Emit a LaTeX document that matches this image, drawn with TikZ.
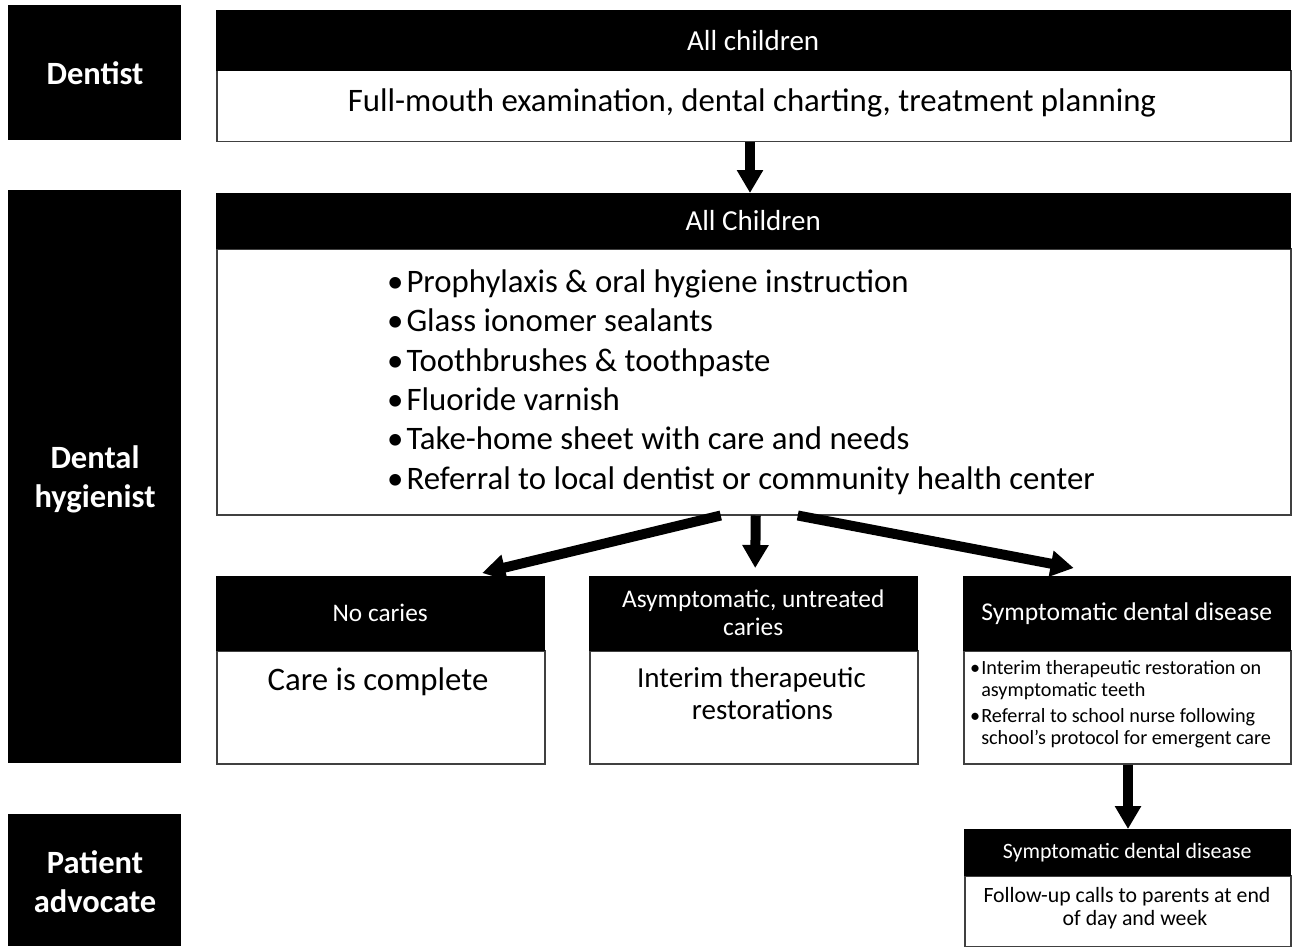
\documentclass[tikz,border=0pt]{standalone}
\usepackage{fontspec}
\setmainfont{Carlito}
\usetikzlibrary{arrows.meta}
\begin{document}
\begin{tikzpicture}[x=1pt,y=-1pt,
  lblbox/.style={fill=black,anchor=north west,inner sep=0pt},
  lbltxt/.style={text=white,inner sep=0pt,align=center,font=\fontsize{32.5}{39}\selectfont\bfseries},
  hdr/.style={fill=black,draw=black,text=white,anchor=north west,inner sep=0pt,align=center},
  body/.style={fill=white,draw=black!75,line width=1.5pt,anchor=north west,inner sep=0pt},
  txt/.style={inner sep=0pt,align=center,text=black},
  arr/.style={line width=10pt,draw=black,-{Triangle[width=25pt,length=23pt]}}
]
\fill[white] (0,0) rectangle (1293,947);
\useasboundingbox (0,0) rectangle (1293,947);

% role labels
\node[lblbox,minimum width=173pt,minimum height=135pt] (dentist) at (8,5) {};
\node[lbltxt] (dentistT) at (95,73) {Dentist};
\node[lblbox,minimum width=173pt,minimum height=573pt] (hyg) at (8,190) {};
\node[lbltxt] (hygT) at (95,479) {Dental\\hygienist};
\node[lblbox,minimum width=173pt,minimum height=132pt] (adv) at (8,814) {};
\node[lbltxt] (advT) at (95,882) {Patient\\advocate};

% dentist box
\node[body,minimum width=1074pt,minimum height=71pt] (bodyA) at (216,70) {};
\node[hdr,minimum width=1074pt,minimum height=60pt,font=\fontsize{29}{32}\selectfont] (hdrA) at (216,10) {All children};
\node[txt,font=\fontsize{32.8}{36}\selectfont] (tA) at (752,103) {Full-mouth examination, dental charting, treatment planning};

% hygienist box
\node[body,minimum width=1074pt,minimum height=266pt] (bodyB) at (216,248) {};
\node[hdr,minimum width=1074pt,minimum height=55pt,font=\fontsize{29}{32}\selectfont] (hdrB) at (216,193) {All Children};
\node[txt,anchor=west,align=left,font=\fontsize{32.8}{39.4}\selectfont] (tB) at (387,382)
 {\textbullet\hspace{3pt}Prophylaxis \& oral hygiene instruction\\
  \textbullet\hspace{3pt}Glass ionomer sealants\\
  \textbullet\hspace{3pt}Toothbrushes \& toothpaste\\
  \textbullet\hspace{3pt}Fluoride varnish\\
  \textbullet\hspace{3pt}Take-home sheet with care and needs\\
  \textbullet\hspace{3pt}Referral to local dentist or community health center};

% outcome boxes
\node[body,minimum width=328pt,minimum height=113pt] (bodyC1) at (216,650) {};
\node[hdr,minimum width=328pt,minimum height=74pt,font=\fontsize{25.3}{28}\selectfont] (hdrC1) at (216,576) {No caries};
\node[txt,font=\fontsize{32.8}{36}\selectfont] (tC1) at (378,682) {Care is complete};

\node[body,minimum width=328pt,minimum height=113pt] (bodyC2) at (589,650) {};
\node[hdr,minimum width=328pt,minimum height=74pt,font=\fontsize{25.4}{28}\selectfont] (hdrC2) at (589,576) {Asymptomatic, untreated\\caries};
\node[txt,font=\fontsize{29}{32}\selectfont] (tC2) at (751.5,694) {Interim therapeutic\\\hspace*{22pt}restorations};

\node[body,minimum width=327pt,minimum height=113pt] (bodyC3) at (963,650) {};
\node[hdr,minimum width=327pt,minimum height=74pt,font=\fontsize{25.6}{28}\selectfont] (hdrC3) at (963,576) {Symptomatic dental disease};
\node[txt,anchor=west,align=left,font=\fontsize{20.2}{22}\selectfont] (tC3a) at (970,680)
 {\textbullet\hspace{1pt}Interim therapeutic restoration on\\\hphantom{\textbullet}\hspace{1pt}asymptomatic teeth};
\node[txt,anchor=west,align=left,font=\fontsize{20.2}{22}\selectfont] (tC3b) at (970,728)
 {\textbullet\hspace{1pt}Referral to school nurse following\\\hphantom{\textbullet}\hspace{1pt}school’s protocol for emergent care};

% patient advocate box
\node[body,minimum width=326pt,minimum height=71pt] (bodyD) at (964,875) {};
\node[hdr,minimum width=326pt,minimum height=46pt,font=\fontsize{21.9}{25}\selectfont] (hdrD) at (964,829) {\raisebox{-4pt}{Symptomatic dental disease}};
\node[txt,font=\fontsize{21.8}{23}\selectfont] (tD) at (1127,908) {Follow-up calls to parents at end\\\hspace*{16pt}of day and week};

% arrows
\draw[arr] (bodyA.south -| 750,0) -- (hdrB.north -| 750,0);
\draw[arr] ([xshift=-33pt]bodyB.south) -- ([xshift=102pt,yshift=3pt]hdrC1.north);
\draw[arr] ([xshift=2pt]bodyB.south) -- ([xshift=2pt,yshift=8pt]hdrC2.north);
\draw[arr] ([xshift=44pt]bodyB.south) -- ([xshift=-53pt,yshift=8pt]hdrC3.north);
\draw[arr] (bodyC3.south -| 1128,0) -- (hdrD.north -| 1128,0);
\end{tikzpicture}
\end{document}
